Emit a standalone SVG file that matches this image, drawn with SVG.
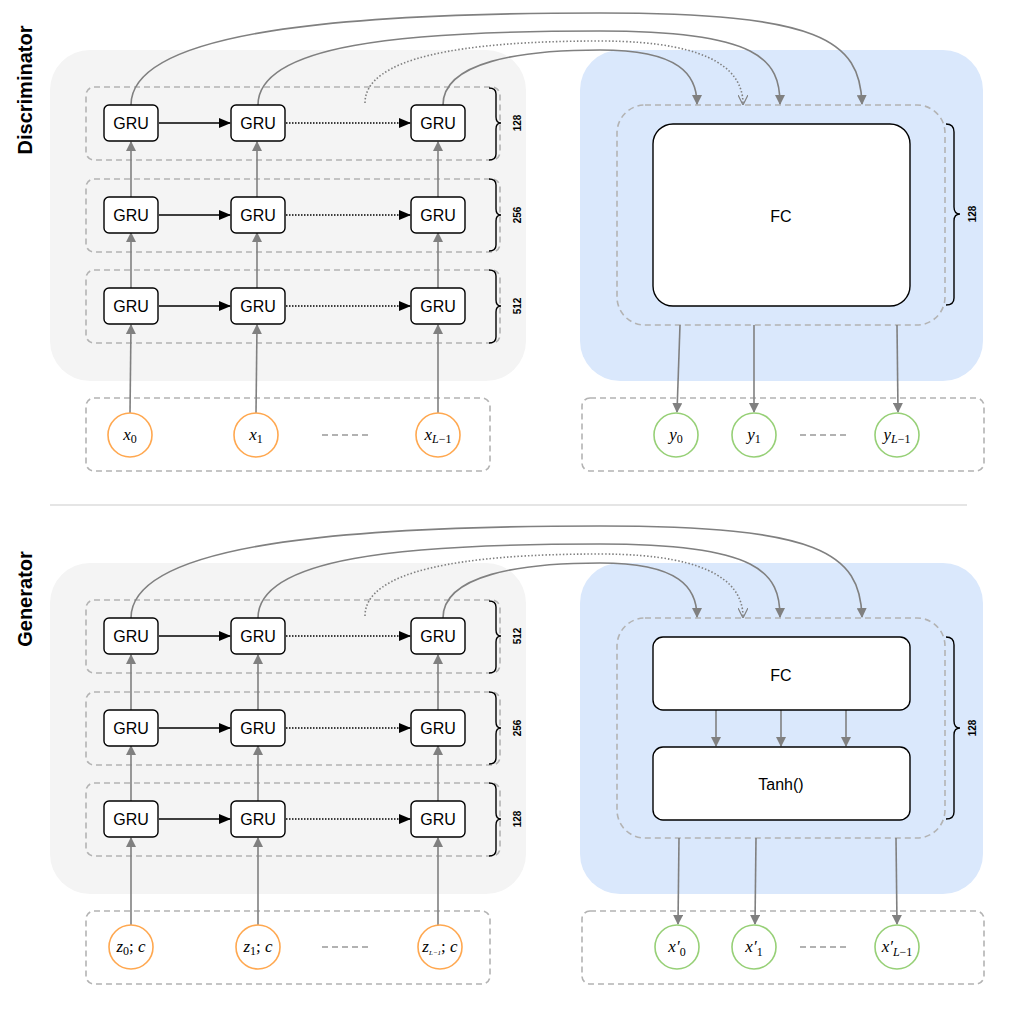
<svg xmlns="http://www.w3.org/2000/svg" width="1017" height="1016" viewBox="0 0 1017 1016">
<style>
.bgG{fill:#f4f4f4}
.bgB{fill:#dae8fc}
.dash{fill:none;stroke:#b3b3b3;stroke-width:1.6;stroke-dasharray:6 4}
.gru{fill:#fff;stroke:#000;stroke-width:1.4}
.t{font-family:"Liberation Sans",Arial,sans-serif;font-size:16px;text-anchor:middle}
.b{font-family:"Liberation Sans",Arial,sans-serif;font-weight:bold;text-anchor:middle}
.m{font-family:"Liberation Serif","Times New Roman",serif;font-style:italic;font-size:17px;text-anchor:middle}
.sub{font-size:12px;font-style:normal}
.subi{font-size:12px}
.g{stroke:#808080;stroke-width:1.6;fill:none}
.k{stroke:#000;stroke-width:1.6;fill:none}
.kd{stroke:#000;stroke-width:1.6;fill:none;stroke-dasharray:1.5 1.5}
.gd{stroke:#808080;stroke-width:1.6;fill:none;stroke-dasharray:1.5 2}
.in{fill:#fff;stroke:#ffa850;stroke-width:1.6}
.out{fill:#fff;stroke:#97d077;stroke-width:1.6}
.br{fill:none;stroke:#000;stroke-width:1.4}
</style>
<defs>
<marker id="ag" markerWidth="10" markerHeight="10" refX="9" refY="5" orient="auto" markerUnits="userSpaceOnUse" viewBox="0 0 10 10"><path d="M0,0L10,5L0,10z" fill="#808080"/></marker>
<marker id="ak" markerWidth="12" markerHeight="10" refX="11" refY="5" orient="auto" markerUnits="userSpaceOnUse" viewBox="0 0 12 10"><path d="M0,0L12,5L0,10z" fill="#000"/></marker>
<marker id="ao" markerWidth="10" markerHeight="10" refX="9" refY="5" orient="auto" markerUnits="userSpaceOnUse" viewBox="0 0 10 10"><path d="M0,0L10,5L0,10" fill="none" stroke="#808080" stroke-width="1.2"/></marker>
</defs>

<!-- ===== Discriminator ===== -->
<g id="disc-titles">
<text class="b" font-size="20" transform="translate(32,90) rotate(-90)">Discriminator</text>
<text class="b" font-size="12" transform="translate(73,213) rotate(-90)">Encoder Network</text>
</g>
<g id="enc-bg"><rect class="bgG" x="50" y="50" width="476" height="331" rx="40"/>
<rect class="dash" x="86" y="87" width="414" height="73" rx="8"/>
<rect class="dash" x="86" y="179" width="414" height="73" rx="8"/>
<rect class="dash" x="86" y="270" width="414" height="73" rx="8"/>
</g>
<g id="fc-bg"><rect class="bgB" x="580" y="50" width="403" height="331" rx="40"/>
<rect class="dash" x="617" y="105" width="328" height="220" rx="28"/></g>
<g id="in-box"><rect class="dash" x="86" y="398" width="404" height="73" rx="8"/>
<line x1="322" y1="435" x2="372" y2="435" stroke="#999" stroke-width="1.6" stroke-dasharray="6 4"/></g>
<g id="out-box"><rect class="dash" x="582" y="398" width="402" height="73" rx="8"/>
<line x1="800" y1="435" x2="850" y2="435" stroke="#999" stroke-width="1.6" stroke-dasharray="6 4"/></g>

<g id="d-connectors">
<line class="g" x1="130" y1="413" x2="131" y2="325" marker-end="url(#ag)"/>
<line class="g" x1="256" y1="413" x2="257" y2="325" marker-end="url(#ag)"/>
<line class="g" x1="438" y1="413" x2="438" y2="325" marker-end="url(#ag)"/>
<line class="g" x1="131" y1="289" x2="131" y2="233" marker-end="url(#ag)"/>
<line class="g" x1="257" y1="289" x2="257" y2="233" marker-end="url(#ag)"/>
<line class="g" x1="438" y1="289" x2="438" y2="233" marker-end="url(#ag)"/>
<line class="g" x1="131" y1="197" x2="131" y2="142" marker-end="url(#ag)"/>
<line class="g" x1="257" y1="197" x2="257" y2="142" marker-end="url(#ag)"/>
<line class="g" x1="438" y1="197" x2="438" y2="142" marker-end="url(#ag)"/>
<line class="k" x1="159" y1="123" x2="230" y2="123" marker-end="url(#ak)"/>
<line class="k" x1="159" y1="215" x2="230" y2="215" marker-end="url(#ak)"/>
<line class="k" x1="159" y1="306" x2="230" y2="306" marker-end="url(#ak)"/>
<line class="kd" x1="286" y1="123" x2="410" y2="123" marker-end="url(#ak)"/>
<line class="kd" x1="286" y1="215" x2="410" y2="215" marker-end="url(#ak)"/>
<line class="kd" x1="286" y1="306" x2="410" y2="306" marker-end="url(#ak)"/>
<path class="g" d="M131,105 C131,30 350,13 600,13 C820,13 860,40 862,104" marker-end="url(#ag)"/>
<path class="g" d="M258,105 C258,45 400,31 600,31 C760,31 780,60 780,104" marker-end="url(#ag)"/>
<path class="gd" d="M365,103 C365,58 460,41 600,41 C720,41 743,75 743,104" marker-end="url(#ao)"/>
<path class="g" d="M443,105 C443,62 520,50 600,50 C680,50 697,75 697,104" marker-end="url(#ag)"/>
<line class="g" x1="680" y1="325" x2="677" y2="412" marker-end="url(#ag)"/>
<line class="g" x1="754" y1="325" x2="754" y2="412" marker-end="url(#ag)"/>
<line class="g" x1="897" y1="325" x2="898" y2="412" marker-end="url(#ag)"/>
</g>

<g id="d-gru">
<rect class="gru" x="104" y="105" width="54" height="36" rx="5"/><text class="t" x="131" y="129">GRU</text>
<rect class="gru" x="231" y="105" width="54" height="36" rx="5"/><text class="t" x="258" y="129">GRU</text>
<rect class="gru" x="411" y="105" width="54" height="36" rx="5"/><text class="t" x="438" y="129">GRU</text>
<rect class="gru" x="104" y="197" width="54" height="36" rx="5"/><text class="t" x="131" y="221">GRU</text>
<rect class="gru" x="231" y="197" width="54" height="36" rx="5"/><text class="t" x="258" y="221">GRU</text>
<rect class="gru" x="411" y="197" width="54" height="36" rx="5"/><text class="t" x="438" y="221">GRU</text>
<rect class="gru" x="104" y="288" width="54" height="36" rx="5"/><text class="t" x="131" y="312">GRU</text>
<rect class="gru" x="231" y="288" width="54" height="36" rx="5"/><text class="t" x="258" y="312">GRU</text>
<rect class="gru" x="411" y="288" width="54" height="36" rx="5"/><text class="t" x="438" y="312">GRU</text>
</g>
<g id="d-braces">
<path class="br" d="M489,88 Q496,88 496,94 V117 Q496,123 501,123 Q496,123 496,129 V154 Q496,160 489,160"/>
<path class="br" d="M489,179 Q496,179 496,185 V209 Q496,215 501,215 Q496,215 496,221 V245 Q496,251 489,251"/>
<path class="br" d="M489,270 Q496,270 496,276 V300 Q496,306 501,306 Q496,306 496,312 V337 Q496,343 489,343"/>
<text class="b" font-size="10" transform="translate(521,123) rotate(-90)">128</text>
<text class="b" font-size="10" transform="translate(521,215) rotate(-90)">256</text>
<text class="b" font-size="10" transform="translate(521,306) rotate(-90)">512</text>
<path class="br" d="M946,124 Q954,124 954,132 V207 Q954,214 960,214 Q954,214 954,221 V298 Q954,305 946,305"/>
<text class="b" font-size="10" transform="translate(976,214) rotate(-90)">128</text>
</g>
<g id="d-fc"><rect class="gru" x="653" y="124" width="257" height="182" rx="20"/><text class="t" x="781" y="222">FC</text></g>
<g id="d-in">
<circle class="in" cx="130" cy="435" r="22"/><text class="m" x="130" y="440">x<tspan class="sub" dy="3">0</tspan></text>
<circle class="in" cx="256" cy="435" r="22"/><text class="m" x="256" y="440">x<tspan class="sub" dy="3">1</tspan></text>
<circle class="in" cx="438" cy="435" r="22"/><text class="m" x="438" y="440">x<tspan class="subi" dy="3">L</tspan><tspan class="sub">−1</tspan></text>
</g>
<g id="d-out">
<circle class="out" cx="676" cy="435" r="22"/><text class="m" x="676" y="440">y<tspan class="sub" dy="3">0</tspan></text>
<circle class="out" cx="754" cy="435" r="22"/><text class="m" x="754" y="440">y<tspan class="sub" dy="3">1</tspan></text>
<circle class="out" cx="897" cy="435" r="22"/><text class="m" x="897" y="440">y<tspan class="subi" dy="3">L</tspan><tspan class="sub">−1</tspan></text>
</g>

<line x1="50" y1="505" x2="967" y2="505" stroke="#cccccc" stroke-width="1.2"/>

<!-- ===== Generator ===== -->
<g id="gen-titles">
<text class="b" font-size="20" transform="translate(32,599) rotate(-90)">Generator</text>
<text class="b" font-size="12" transform="translate(73,727) rotate(-90)">Decoder Network</text>
<text class="b" font-size="12" transform="translate(602,727) rotate(-90)">Generation</text>
</g>
<g id="dec-bg"><rect class="bgG" x="50" y="563" width="476" height="331" rx="40"/>
<rect class="dash" x="86" y="600" width="414" height="73" rx="8"/>
<rect class="dash" x="86" y="692" width="414" height="73" rx="8"/>
<rect class="dash" x="86" y="783" width="414" height="73" rx="8"/>
</g>
<g id="gen-bg"><rect class="bgB" x="580" y="563" width="403" height="331" rx="40"/>
<rect class="dash" x="617" y="618" width="328" height="220" rx="28"/></g>
<g id="z-box"><rect class="dash" x="86" y="911" width="404" height="73" rx="8"/>
<line x1="322" y1="947" x2="372" y2="947" stroke="#999" stroke-width="1.6" stroke-dasharray="6 4"/></g>
<g id="xo-box"><rect class="dash" x="582" y="911" width="402" height="73" rx="8"/>
<line x1="800" y1="947" x2="850" y2="947" stroke="#999" stroke-width="1.6" stroke-dasharray="6 4"/></g>

<g id="g-connectors">
<line class="g" x1="131" y1="925" x2="131" y2="838" marker-end="url(#ag)"/>
<line class="g" x1="258" y1="925" x2="258" y2="838" marker-end="url(#ag)"/>
<line class="g" x1="438" y1="925" x2="438" y2="838" marker-end="url(#ag)"/>
<line class="g" x1="131" y1="801" x2="131" y2="746" marker-end="url(#ag)"/>
<line class="g" x1="258" y1="801" x2="258" y2="746" marker-end="url(#ag)"/>
<line class="g" x1="438" y1="801" x2="438" y2="746" marker-end="url(#ag)"/>
<line class="g" x1="131" y1="710" x2="131" y2="655" marker-end="url(#ag)"/>
<line class="g" x1="258" y1="710" x2="258" y2="655" marker-end="url(#ag)"/>
<line class="g" x1="438" y1="710" x2="438" y2="655" marker-end="url(#ag)"/>
<line class="k" x1="159" y1="636" x2="230" y2="636" marker-end="url(#ak)"/>
<line class="k" x1="159" y1="728" x2="230" y2="728" marker-end="url(#ak)"/>
<line class="k" x1="159" y1="819" x2="230" y2="819" marker-end="url(#ak)"/>
<line class="kd" x1="286" y1="636" x2="410" y2="636" marker-end="url(#ak)"/>
<line class="kd" x1="286" y1="728" x2="410" y2="728" marker-end="url(#ak)"/>
<line class="kd" x1="286" y1="819" x2="410" y2="819" marker-end="url(#ak)"/>
<path class="g" d="M131,618 C131,543 350,526 600,526 C820,526 860,553 862,617" marker-end="url(#ag)"/>
<path class="g" d="M258,618 C258,558 400,544 600,544 C760,544 780,573 780,617" marker-end="url(#ag)"/>
<path class="gd" d="M365,616 C365,571 460,554 600,554 C720,554 743,588 743,617" marker-end="url(#ao)"/>
<path class="g" d="M443,618 C443,575 520,563 600,563 C680,563 697,588 697,617" marker-end="url(#ag)"/>
<line class="g" x1="716" y1="710" x2="716" y2="746" marker-end="url(#ag)"/>
<line class="g" x1="781" y1="710" x2="781" y2="746" marker-end="url(#ag)"/>
<line class="g" x1="846" y1="710" x2="846" y2="746" marker-end="url(#ag)"/>
<line class="g" x1="679" y1="838" x2="678" y2="924" marker-end="url(#ag)"/>
<line class="g" x1="756" y1="838" x2="755" y2="924" marker-end="url(#ag)"/>
<line class="g" x1="896" y1="838" x2="897" y2="924" marker-end="url(#ag)"/>
</g>

<g id="g-gru">
<rect class="gru" x="104" y="618" width="54" height="36" rx="5"/><text class="t" x="131" y="642">GRU</text>
<rect class="gru" x="231" y="618" width="54" height="36" rx="5"/><text class="t" x="258" y="642">GRU</text>
<rect class="gru" x="411" y="618" width="54" height="36" rx="5"/><text class="t" x="438" y="642">GRU</text>
<rect class="gru" x="104" y="710" width="54" height="36" rx="5"/><text class="t" x="131" y="734">GRU</text>
<rect class="gru" x="231" y="710" width="54" height="36" rx="5"/><text class="t" x="258" y="734">GRU</text>
<rect class="gru" x="411" y="710" width="54" height="36" rx="5"/><text class="t" x="438" y="734">GRU</text>
<rect class="gru" x="104" y="801" width="54" height="36" rx="5"/><text class="t" x="131" y="825">GRU</text>
<rect class="gru" x="231" y="801" width="54" height="36" rx="5"/><text class="t" x="258" y="825">GRU</text>
<rect class="gru" x="411" y="801" width="54" height="36" rx="5"/><text class="t" x="438" y="825">GRU</text>
</g>
<g id="g-braces">
<path class="br" d="M489,601 Q496,601 496,607 V630 Q496,636 501,636 Q496,636 496,642 V667 Q496,673 489,673"/>
<path class="br" d="M489,692 Q496,692 496,698 V722 Q496,728 501,728 Q496,728 496,734 V758 Q496,764 489,764"/>
<path class="br" d="M489,783 Q496,783 496,789 V813 Q496,819 501,819 Q496,819 496,825 V850 Q496,856 489,856"/>
<text class="b" font-size="10" transform="translate(521,636) rotate(-90)">512</text>
<text class="b" font-size="10" transform="translate(521,728) rotate(-90)">256</text>
<text class="b" font-size="10" transform="translate(521,819) rotate(-90)">128</text>
<path class="br" d="M946,637 Q954,637 954,645 V721 Q954,728 960,728 Q954,728 954,735 V812 Q954,819 946,819"/>
<text class="b" font-size="10" transform="translate(976,728) rotate(-90)">128</text>
</g>
<g id="g-fc"><rect class="gru" x="653" y="637" width="257" height="73" rx="10"/><text class="t" x="781" y="681">FC</text></g>
<g id="g-tanh"><rect class="gru" x="653" y="747" width="257" height="73" rx="10"/><text class="t" x="781" y="790">Tanh()</text></g>
<g id="g-in">
<circle class="in" cx="131" cy="947" r="22"/><text class="m" x="131" y="952" font-size="16">z<tspan class="sub" dy="3">0</tspan><tspan dy="-3" font-style="normal">;</tspan> c</text>
<circle class="in" cx="258" cy="947" r="22"/><text class="m" x="258" y="952" font-size="16">z<tspan class="sub" dy="3">1</tspan><tspan dy="-3" font-style="normal">;</tspan> c</text>
<circle class="in" cx="440" cy="947" r="22"/><text class="m" x="440" y="952" font-size="16">z<tspan font-size="7" dy="3">L−1</tspan><tspan dy="-3" font-style="normal">;</tspan> c</text>
</g>
<g id="g-out">
<circle class="out" cx="677" cy="947" r="22"/><text class="m" x="677" y="952">x′<tspan class="sub" dy="4">0</tspan></text>
<circle class="out" cx="754" cy="947" r="22"/><text class="m" x="754" y="952">x′<tspan class="sub" dy="4">1</tspan></text>
<circle class="out" cx="897" cy="947" r="22"/><text class="m" x="897" y="952">x′<tspan class="subi" dy="4">L</tspan><tspan class="sub">−1</tspan></text>
</g>
</svg>
